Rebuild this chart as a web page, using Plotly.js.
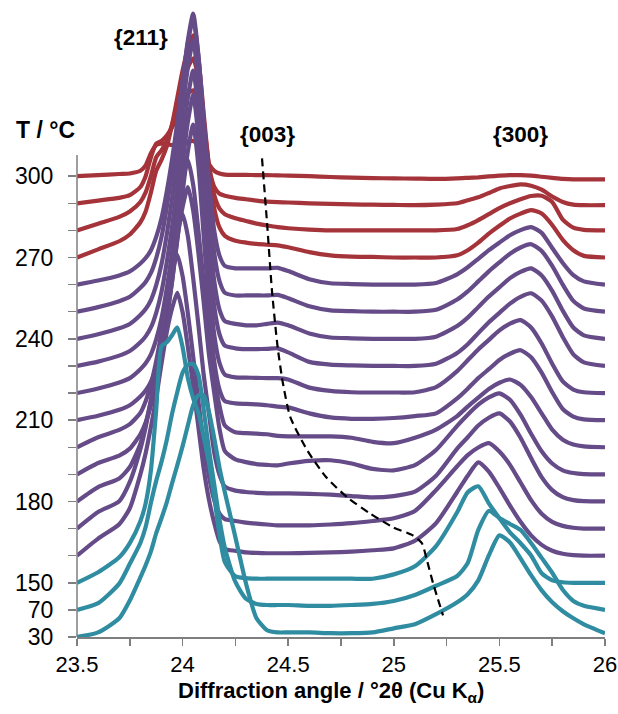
<!DOCTYPE html>
<html><head><meta charset="utf-8">
<script src="https://cdn.plot.ly/plotly-3.0.1.min.js"></script>
<style>html,body{margin:0;padding:0;background:#fff;}#chart{width:618px;height:714px;}</style>
</head><body><div id="chart"></div>
<script>
// diffraction angle grid (°2θ)
const angle = [23.5,23.6,23.7,23.75,23.8,23.825,23.85,23.875,23.9,23.925,23.95,23.975,24.0,24.025,24.05,24.075,24.1,24.125,24.15,24.175,24.2,24.25,24.3,24.35,24.4,24.45,24.5,24.6,24.7,24.8,24.9,25.0,25.1,25.2,25.3,25.35,25.4,25.45,25.5,25.55,25.6,25.65,25.7,25.75,25.8,25.85,25.9,26.0];
// temperatures (°C), bottom to top
const temps = [30,70,150,160,170,180,190,200,210,220,230,240,250,260,270,280,290,300];
// intensities (a.u., one unit = one trace offset)
const I30  = [0,0.17,0.69,1.35, 2.2,2.65,3.16,3.83,4.38,4.97,5.67,6.34,7.04,7.81,8.55,8.92,8.92,8.29,7.33,6.23,5.34, 3.68,1.98,0.69,0.25,0.17,0.17, 0.17,0.14,0.14,0.17,0.32,0.47,0.84,1.28, 1.58,2.09,3.01,3.75,3.49,2.9,2.28,1.72,1.28,0.95,0.69,0.47, 0.14];
const I70  = [0,0.25,0.97,1.7, 2.47,3.06,3.95,4.76,5.46,6.27,7.23,8.04,8.75,9.04,9.08,8.67,7.38,5.9,4.61,3.32,2.29, 1.03,0.41,0.22,0.18,0.18,0.18, 0.15,0.15,0.18,0.22,0.33,0.55,0.89,1.25, 1.73,2.95,3.65,3.39,3.17,2.95,2.47,1.92,1.37,0.74,0.33,0.15, 0];
const I150 = [0,0.39,0.94,1.46, 2.27,2.93,4.15,6.37,8.73,8.87,9.13,9.42,8.69,7.55,6.81,6.26,5.37,4.41,3.16,1.75,0.76, 0.24,0.17,0.15,0.15,0.15,0.15, 0.15,0.15,0.15,0.15,0.31,0.61,1.35,2.6, 3.34,3.56,2.93,2.38,1.86,1.46,1.01,0.35,0.09,0.02,0,0, 0];
const I160 = [0,0.63,1.16,1.75, 3.0,3.78,4.75,5.82,7.08,8.25,9.12,9.7,8.98,7.69,6.26,4.73,3.21,2.06,1.2,0.53,0.25, 0.18,0.12,0.1,0.09,0.09,0.09, 0.1,0.12,0.15,0.2,0.27,0.55,1.2,2.35, 2.95,3.44,3.1,2.5,1.85,1.25,0.75,0.4,0.18,0.07,0.02,0, 0];
const I170 = [0,0.61,1.01,1.72, 2.93,3.74,4.75,5.86,7.17,8.48,9.49,10.1,9.31,7.93,6.36,4.68,3.11,1.92,1.04,0.55,0.35, 0.28,0.22,0.18,0.15,0.12,0.12, 0.12,0.15,0.2,0.28,0.38,0.65,1.42,2.3, 2.71,2.99,3.15,2.84,2.35,1.7,1.05,0.55,0.25,0.1,0.03,0, 0];
const I180 = [0,0.53,0.85,1.27, 2.12,2.86,3.71,4.66,5.94,7.31,8.8,9.91,10.6,9.78,8.24,6.5,4.66,3.22,1.79,0.97,0.55, 0.4,0.35,0.32,0.3,0.3,0.3, 0.28,0.25,0.2,0.15,0.2,0.36,0.95,1.95, 2.37,2.8,3.09,3.25,2.95,2.35,1.6,0.9,0.42,0.16,0.05,0.01, 0];
const I190 = [0,0.42,0.69,0.95, 1.48,1.91,2.54,3.39,4.45,5.72,7.1,8.69,9.86,10.6,9.74,8.16,6.34,4.41,2.99,1.67,0.86, 0.55,0.45,0.38,0.35,0.33,0.4, 0.5,0.52,0.4,0.2,0.15,0.34,0.9,1.79, 2.2,2.57,2.84,2.99,2.75,2.2,1.5,0.85,0.4,0.15,0.05,0.01, 0];
const I200 = [0,0.37,0.64,0.85, 1.27,1.7,2.33,3.18,4.24,5.51,6.89,8.48,9.75,10.6,9.69,7.97,6.06,4.14,2.62,1.51,0.8, 0.55,0.52,0.5,0.48,0.42,0.4, 0.4,0.4,0.35,0.2,0.15,0.35,0.65,1.15, 1.5,1.83,2.15,2.38,2.5,2.3,1.85,1.25,0.65,0.28,0.1,0.03, 0];
const I210 = [0,0.16,0.38,0.55, 0.87,1.09,1.42,1.96,2.73,3.82,5.12,6.65,8.39,9.92,10.9,9.36,6.78,4.21,2.15,1.12,0.7, 0.62,0.6,0.58,0.55,0.5,0.47, 0.25,0.1,0.05,0.05,0.08,0.15,0.25,0.8, 1.16,1.55,1.88,2.22,2.45,2.58,2.32,1.75,1.03,0.41,0.13,0.03, 0];
const I220 = [0,0.17,0.39,0.55, 0.88,1.1,1.43,1.98,2.75,3.85,5.17,6.71,8.47,10.01,11.0,9.44,6.83,4.23,2.14,1.1,0.68, 0.58,0.57,0.56,0.55,0.55,0.5, 0.2,0.08,0.03,0.02,0.02,0.03,0.22,0.81, 1.21,1.61,1.96,2.31,2.56,2.69,2.42,1.83,1.08,0.43,0.13,0.03, 0];
const I230 = [0,0.16,0.38,0.55, 0.87,1.09,1.42,1.96,2.73,3.82,5.12,6.65,8.39,9.92,10.9,9.36,6.8,4.24,2.19,1.16,0.75, 0.65,0.62,0.62,0.63,0.65,0.5, 0.15,0.05,0.02,0,0,0,0.08,0.48, 0.8,1.21,1.61,1.96,2.3,2.55,2.68,2.41,1.82,1.07,0.43,0.13, 0];
const I240 = [0,0.17,0.39,0.55, 0.88,1.1,1.43,1.98,2.75,3.85,5.17,6.71,8.47,10.01,11.0,9.43,6.82,4.21,2.12,1.07,0.65, 0.55,0.5,0.5,0.55,0.6,0.5, 0.2,0.05,0.02,0,0,0,0.08,0.47, 0.78,1.17,1.56,1.9,2.24,2.47,2.6,2.34,1.77,1.04,0.42,0.13, 0];
const I250 = [0,0.17,0.39,0.55, 0.88,1.1,1.43,1.98,2.75,3.85,5.17,6.71,8.47,10.01,11.0,9.44,6.84,4.24,2.16,1.12,0.7, 0.6,0.6,0.6,0.6,0.62,0.5, 0.2,0.05,0.02,0,0,0,0.07,0.45, 0.75,1.12,1.49,1.82,2.14,2.37,2.49,2.24,1.69,1.0,0.4,0.12, 0];
const I260 = [0,0.15,0.34,0.49, 0.78,0.98,1.27,1.76,2.45,3.43,4.61,5.98,7.55,8.92,9.8,8.42,6.12,3.82,1.98,1.06,0.69, 0.6,0.6,0.6,0.6,0.62,0.5, 0.2,0.05,0.02,0,0,0,0.06,0.38, 0.64,0.95,1.27,1.55,1.82,2.01,2.12,1.91,1.35,0.8,0.35,0.12, 0];
const I270 = [0,0.3,0.6,0.85, 1.3,1.7,2.4,3.2,3.6,4.1,4.9,5.9,6.9,7.7,8.2,7.3,5.3,3.3,1.8,1.1,0.8, 0.62,0.55,0.5,0.47,0.45,0.38, 0.2,0.08,0.03,0.02,0,0,0,0.08, 0.27,0.55,0.88,1.17,1.44,1.62,1.75,1.62,1.2,0.65,0.27,0.06, 0];
const I280 = [0,0.25,0.5,0.7, 1.05,1.4,2.0,2.7,2.95,3.3,3.9,4.6,5.4,6.0,6.35,5.6,4.0,2.4,1.3,0.8,0.6, 0.45,0.35,0.25,0.18,0.12,0.08, 0.03,0,0,0,0,0,0,0.05, 0.19,0.38,0.6,0.82,1.0,1.15,1.27,1.28,1.05,0.4,0.1,0.02, 0];
const I290 = [0,0.1,0.2,0.3, 0.6,1.0,1.7,2.2,2.3,2.5,2.8,3.2,3.7,4.05,4.17,3.6,2.4,1.3,0.6,0.35,0.28, 0.2,0.15,0.1,0.06,0.04,0.03, 0,-0.02,-0.04,-0.05,-0.06,-0.07,-0.05,0, 0.11,0.22,0.38,0.55,0.64,0.7,0.65,0.5,0.25,0.05,-0.05,-0.07, -0.07];
const I300 = [0,0.04,0.08,0.1, 0.2,0.4,0.85,1.15,1.2,1.18,1.15,1.18,1.22,1.28,1.3,1.15,0.85,0.45,0.2,0.1,0.06, 0.05,0.05,0.04,0.04,0.03,0.02, 0,-0.03,-0.05,-0.07,-0.08,-0.09,-0.1,-0.08, -0.06,-0.04,-0.01,0.02,0.04,0.04,0.02,-0.02,-0.06,-0.1,-0.12,-0.12, -0.12];
// {003} guide line
const dashAngle  = [24.376,24.40,24.423,24.45,24.475,24.51,24.59,24.68,24.78,24.887,24.996,25.09,25.133,25.157,25.186,25.233];
const dashOffset = [17.66,15.26,12.79,10.69,9.36,8.11,6.89,5.89,5.15,4.56,4.05,3.75,3.46,2.83,1.98,0.80];
// axis ticks
const xTickVals = [23.5,23.75,24,24.25,24.5,24.75,25,25.25,25.5,25.75,26];
const xTickText = ['23.5','','24','','24.5','','25','','25.5','','26'];
const yTickText = ['30','70','150','','','180','','','210','','','240','','','270','','','300'];

const series = [I30,I70,I150,I160,I170,I180,I190,I200,I210,I220,I230,I240,I250,I260,I270,I280,I290,I300];
const TEAL = '#2f8ca1', PURPLE = '#654b87', RED = '#a5333a';
function colorFor(t){ return t <= 150 ? TEAL : (t <= 260 ? PURPLE : RED); }

const traces = [];
for (let i = series.length - 1; i >= 0; i--) {
  traces.push({
    x: angle, y: series[i].map(v => v + i), type: 'scatter', mode: 'lines',
    line: {color: colorFor(temps[i]), width: 4.2, shape: 'spline', smoothing: 0.6}, hoverinfo: 'skip', showlegend: false
  });
}
traces.push({x: dashAngle, y: dashOffset, type: 'scatter', mode: 'lines',
  line: {color: '#000', width: 2.2, dash: '8px,5px', shape: 'spline', smoothing: 0.6}, hoverinfo: 'skip', showlegend: false});

const yTickVals = temps.map((t, i) => i);
const AX = '#7f7f7f';
const layout = {
  width: 618, height: 714,
  margin: {l: 77, r: 13, t: 0, b: 77, pad: 0},
  paper_bgcolor: '#fff', plot_bgcolor: '#fff', showlegend: false,
  font: {family: 'Liberation Sans, Arial, sans-serif', color: '#000', size: 22},
  xaxis: {range: [23.5, 26], tickmode: 'array', tickvals: xTickVals, ticktext: xTickText,
    ticks: 'outside', ticklen: 7, tickwidth: 1.5, tickcolor: AX, showline: true, linecolor: AX, linewidth: 1.5,
    showgrid: false, zeroline: false, tickfont: {size: 22}},
  yaxis: {range: [0, 23.5], tickmode: 'array', tickvals: yTickVals, ticktext: yTickText,
    ticks: 'outside', ticklen: 8, tickwidth: 1.5, tickcolor: AX, showline: false,
    showgrid: false, zeroline: false, tickfont: {size: 23}, ticklabelstandoff: 10},
  shapes: [{type: 'line', xref: 'paper', yref: 'y', x0: 0, x1: 0, y0: 0, y1: 17.78, line: {color: AX, width: 1.5}}],
  annotations: [
    {text: '<b>{211}</b>', x: 23.803, y: 22.1, xref: 'x', yref: 'y', xanchor: 'center', showarrow: false, font: {size: 22.5}},
    {text: '<b>{003}</b>', x: 24.404, y: 18.52, xref: 'x', yref: 'y', xanchor: 'center', showarrow: false, font: {size: 22.5}},
    {text: '<b>{300}</b>', x: 25.602, y: 18.52, xref: 'x', yref: 'y', xanchor: 'center', showarrow: false, font: {size: 22.5}},
    {text: '<b>T / °C</b>', x: -0.0606, y: 18.7, xref: 'paper', yref: 'y', xanchor: 'center', showarrow: false, font: {size: 23}},
    {text: '<b>Diffraction angle / °2θ (Cu K<sub>α</sub>)</b>', x: 0.481, y: -0.0863, xref: 'paper', yref: 'paper',
      xanchor: 'center', yanchor: 'middle', showarrow: false, font: {size: 22}}
  ]
};
Plotly.newPlot('chart', traces, layout, {staticPlot: true, displayModeBar: false});
</script></body></html>
